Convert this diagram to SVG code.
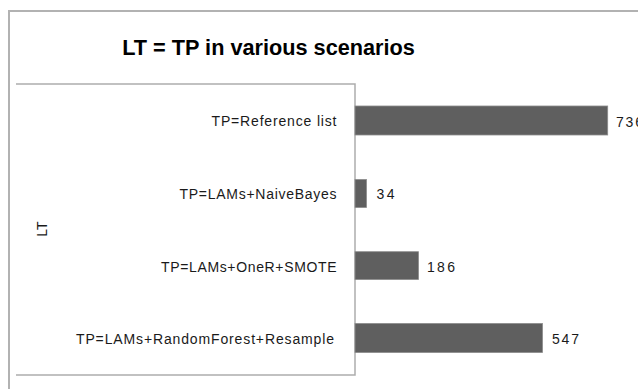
<svg xmlns="http://www.w3.org/2000/svg" width="638" height="389" viewBox="0 0 638 389">
<style>
.frame{fill:none;stroke:#b2b2b2;stroke-width:2}
.plot{fill:none;stroke:#adadad;stroke-width:1.5}
.bar{fill:#5f5f5f;stroke:#8c8c8c;stroke-width:0.8}
.lbl{font-family:"Liberation Sans",Arial,sans-serif;font-size:14px;fill:#1a1a1a}
.title{font-family:"Liberation Sans",Arial,sans-serif;font-size:21.7px;font-weight:bold;fill:#000}
</style>
<rect x="0" y="0" width="638" height="389" fill="#fff"/>
<g id="chart-frame">
<path class="frame" d="M9,395 V11 H645"/>
</g>
<g id="title">
<text class="title" x="268.5" y="55" text-anchor="middle">LT = TP in various scenarios</text>
</g>
<g id="plot-area">
<path class="plot" d="M16,84 H355 V375 H16"/>
</g>
<g id="axis-title">
<text class="lbl" transform="translate(46.5,229) rotate(-90)" text-anchor="middle" font-size="13">LT</text>
</g>
<g id="bar-reference-list">
<rect class="bar" x="355" y="106" width="252.7" height="29"/>
<text class="lbl" x="336.5" y="126" text-anchor="end" textLength="125" lengthAdjust="spacing">TP=Reference list</text>
<text class="lbl" x="616" y="126.5" textLength="27" lengthAdjust="spacing">736</text>
</g>
<g id="bar-naive-bayes">
<rect class="bar" x="355" y="179.5" width="11.5" height="28"/>
<text class="lbl" x="336.5" y="199" text-anchor="end" textLength="157" lengthAdjust="spacing">TP=LAMs+NaiveBayes</text>
<text class="lbl" x="376.5" y="199" textLength="18" lengthAdjust="spacing">34</text>
</g>
<g id="bar-oner-smote">
<rect class="bar" x="355" y="251.7" width="63.5" height="27.8"/>
<text class="lbl" x="336.5" y="271.5" text-anchor="end" textLength="175.5" lengthAdjust="spacing">TP=LAMs+OneR+SMOTE</text>
<text class="lbl" x="427" y="271.5" textLength="28" lengthAdjust="spacing">186</text>
</g>
<g id="bar-randomforest-resample">
<rect class="bar" x="355" y="323.5" width="187.5" height="29"/>
<text class="lbl" x="334" y="343.5" text-anchor="end" textLength="258" lengthAdjust="spacing">TP=LAMs+RandomForest+Resample</text>
<text class="lbl" x="552" y="344" textLength="27" lengthAdjust="spacing">547</text>
</g>
<g id="connectors"></g>
</svg>
